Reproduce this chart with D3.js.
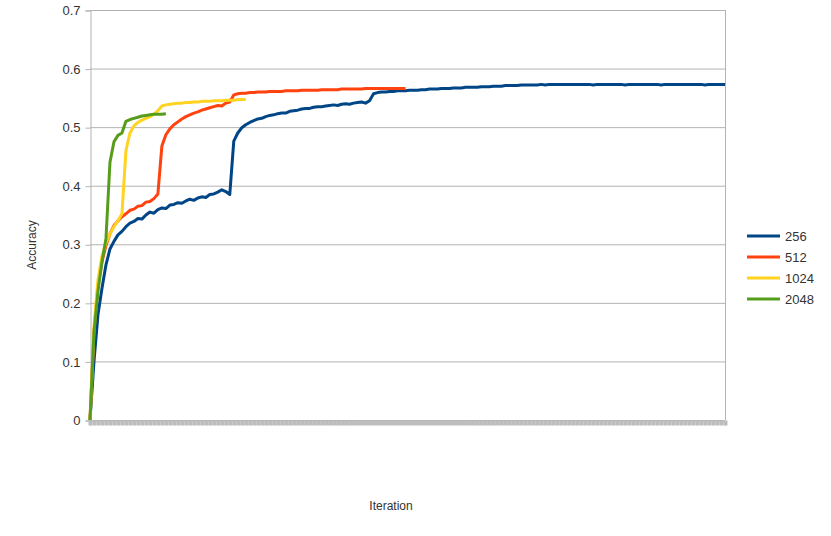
<!DOCTYPE html>
<html>
<head>
<meta charset="utf-8">
<script src="https://cdn.jsdelivr.net/npm/d3@7"></script>
<style>
  body { margin: 0; background: #fff; }
  text { font-family: "Liberation Sans", Arial, sans-serif; }
</style>
</head>
<body>
<div id="chart"></div>
<script>
// Iteration categories (x axis has no visible labels)
var iterations = d3.range(1, 161);

var yTicks = [0, 0.1, 0.2, 0.3, 0.4, 0.5, 0.6, 0.7];
var yTickLabels = ["0", "0.1", "0.2", "0.3", "0.4", "0.5", "0.6", "0.7"];

var seriesNames = ["256", "512", "1024", "2048"];
var seriesColors = ["#004586", "#ff420e", "#ffd320", "#579d1c"];

// Accuracy per iteration
var acc256 = [
  0, 0.10, 0.18, 0.225, 0.265, 0.292, 0.305, 0.316, 0.322, 0.33,
  0.336, 0.339, 0.344, 0.343, 0.35, 0.355, 0.353, 0.359, 0.362, 0.361,
  0.367, 0.368, 0.371, 0.37, 0.374, 0.377, 0.375, 0.379, 0.381, 0.38,
  0.385, 0.386, 0.389, 0.393, 0.39, 0.385, 0.476, 0.49, 0.499, 0.504,
  0.508, 0.511, 0.514, 0.515, 0.518, 0.52, 0.521, 0.523, 0.524, 0.524,
  0.527, 0.528, 0.529, 0.531, 0.532, 0.532, 0.534, 0.535, 0.535, 0.536,
  0.537, 0.538, 0.537, 0.539, 0.54, 0.539, 0.541, 0.542, 0.543, 0.541,
  0.545, 0.557, 0.559, 0.56, 0.56, 0.561, 0.561, 0.562, 0.562, 0.562,
  0.563, 0.563, 0.563, 0.564, 0.564, 0.565, 0.565, 0.565, 0.566, 0.566,
  0.566, 0.567, 0.567, 0.567, 0.568, 0.568, 0.568, 0.568, 0.569, 0.569,
  0.569, 0.57, 0.57, 0.57, 0.571, 0.571, 0.571, 0.571, 0.572, 0.572,
  0.572, 0.572, 0.572, 0.573, 0.572, 0.573, 0.573, 0.573, 0.573, 0.573,
  0.573, 0.573, 0.573, 0.573, 0.573, 0.573, 0.572, 0.573, 0.573, 0.573,
  0.573, 0.573, 0.573, 0.573, 0.572, 0.573, 0.573, 0.573, 0.573, 0.573,
  0.573, 0.573, 0.573, 0.572, 0.573, 0.573, 0.573, 0.573, 0.573, 0.573,
  0.573, 0.573, 0.573, 0.573, 0.572, 0.573, 0.573, 0.573, 0.573, 0.573
];

var acc512 = [
  0, 0.15, 0.23, 0.27, 0.298, 0.318, 0.332, 0.34, 0.347, 0.352,
  0.358, 0.36, 0.365, 0.366, 0.372, 0.373, 0.378, 0.386, 0.468, 0.487,
  0.497, 0.504, 0.509, 0.514, 0.518, 0.521, 0.524, 0.526, 0.529, 0.531,
  0.533, 0.535, 0.537, 0.536, 0.541, 0.543, 0.555, 0.557, 0.558, 0.558,
  0.559, 0.559, 0.56, 0.56, 0.56, 0.561, 0.561, 0.561, 0.561, 0.562,
  0.562, 0.562, 0.562, 0.563, 0.563, 0.563, 0.563, 0.563, 0.564, 0.564,
  0.564, 0.564, 0.564, 0.565, 0.565, 0.565, 0.565, 0.565, 0.565, 0.566,
  0.566, 0.566, 0.566, 0.566, 0.566, 0.566, 0.566, 0.566, 0.566, 0.566
];

var acc1024 = [
  0, 0.16, 0.24, 0.28, 0.302, 0.318, 0.33, 0.34, 0.352, 0.46,
  0.49, 0.502, 0.508, 0.512, 0.515, 0.518, 0.522, 0.528, 0.536, 0.538,
  0.539, 0.54, 0.541, 0.541, 0.542, 0.542, 0.543, 0.543, 0.544, 0.544,
  0.544, 0.545, 0.545, 0.545, 0.546, 0.546, 0.546, 0.547, 0.547, 0.547
];

var acc2048 = [
  0, 0.15, 0.22, 0.27, 0.31, 0.44, 0.475, 0.486, 0.49, 0.51,
  0.513, 0.515, 0.517, 0.519, 0.52, 0.521, 0.522, 0.522, 0.522, 0.523
];

var seriesValues = [acc256, acc512, acc1024, acc2048];

var W = 831, H = 536;
var plot = { left: 90, right: 725, top: 10, bottom: 420 };

var svg = d3.select("#chart").append("svg")
  .attr("width", W)
  .attr("height", H);

var x = d3.scalePoint()
  .domain(iterations)
  .range([plot.left, plot.right]);

var y = d3.scaleLinear()
  .domain([0, 0.7])
  .range([plot.bottom, plot.top]);

// Horizontal grid lines
svg.append("g")
  .selectAll("line")
  .data(yTicks)
  .enter().append("line")
  .attr("x1", plot.left)
  .attr("x2", plot.right)
  .attr("y1", function(d) { return y(d) + 0.5; })
  .attr("y2", function(d) { return y(d) + 0.5; })
  .style("stroke", "#b3b3b3")
  .style("stroke-width", 1);

// Right border
svg.append("line")
  .attr("x1", plot.right + 0.5).attr("x2", plot.right + 0.5)
  .attr("y1", plot.top).attr("y2", plot.bottom)
  .style("stroke", "#b3b3b3");

// Y axis
var yAxis = svg.append("g")
  .attr("transform", "translate(" + (plot.left + 0.5) + ",0.5)")
  .call(d3.axisLeft(y)
    .tickValues(yTicks)
    .tickFormat(function(d, i) { return yTickLabels[i]; })
    .tickSize(5)
    .tickPadding(5));
yAxis.select(".domain").style("stroke", "#b3b3b3");
yAxis.selectAll(".tick line").style("stroke", "#b3b3b3");
yAxis.selectAll("text")
  .style("font-size", "13px")
  .style("fill", "#333");

// X axis: dense category ticks form the gray band
var xAxis = svg.append("g")
  .attr("transform", "translate(0," + (plot.bottom + 0.5) + ")")
  .call(d3.axisBottom(x)
    .tickValues(iterations)
    .tickFormat("")
    .tickSize(5));
xAxis.select(".domain").style("stroke", "#b3b3b3");
xAxis.selectAll(".tick line")
  .style("stroke", "#bdbdbd")
  .style("stroke-width", 4);

// Series lines
var line = d3.line()
  .x(function(d, i) { return x(iterations[i]); })
  .y(function(d) { return y(d); });

svg.append("g")
  .selectAll("path")
  .data(seriesValues)
  .enter().append("path")
  .attr("d", line)
  .style("fill", "none")
  .style("stroke", function(d, i) { return seriesColors[i]; })
  .style("stroke-width", 3)
  .style("stroke-linejoin", "round");

// Axis titles
svg.append("text")
  .attr("transform", "translate(36,245) rotate(-90)")
  .attr("text-anchor", "middle")
  .style("font-size", "12px")
  .style("fill", "#333")
  .text("Accuracy");

svg.append("text")
  .attr("x", 391)
  .attr("y", 510)
  .attr("text-anchor", "middle")
  .style("font-size", "12px")
  .style("fill", "#333")
  .text("Iteration");

// Legend
var legend = svg.append("g")
  .selectAll("g")
  .data(seriesNames)
  .enter().append("g")
  .attr("transform", function(d, i) { return "translate(747," + (236 + i * 21) + ")"; });

legend.append("line")
  .attr("x1", 0).attr("x2", 33)
  .attr("y1", 0).attr("y2", 0)
  .style("stroke", function(d, i) { return seriesColors[i]; })
  .style("stroke-width", 3);

legend.append("text")
  .attr("x", 38)
  .attr("y", 5)
  .style("font-size", "13px")
  .style("fill", "#333")
  .text(function(d) { return d; });
</script>
</body>
</html>
